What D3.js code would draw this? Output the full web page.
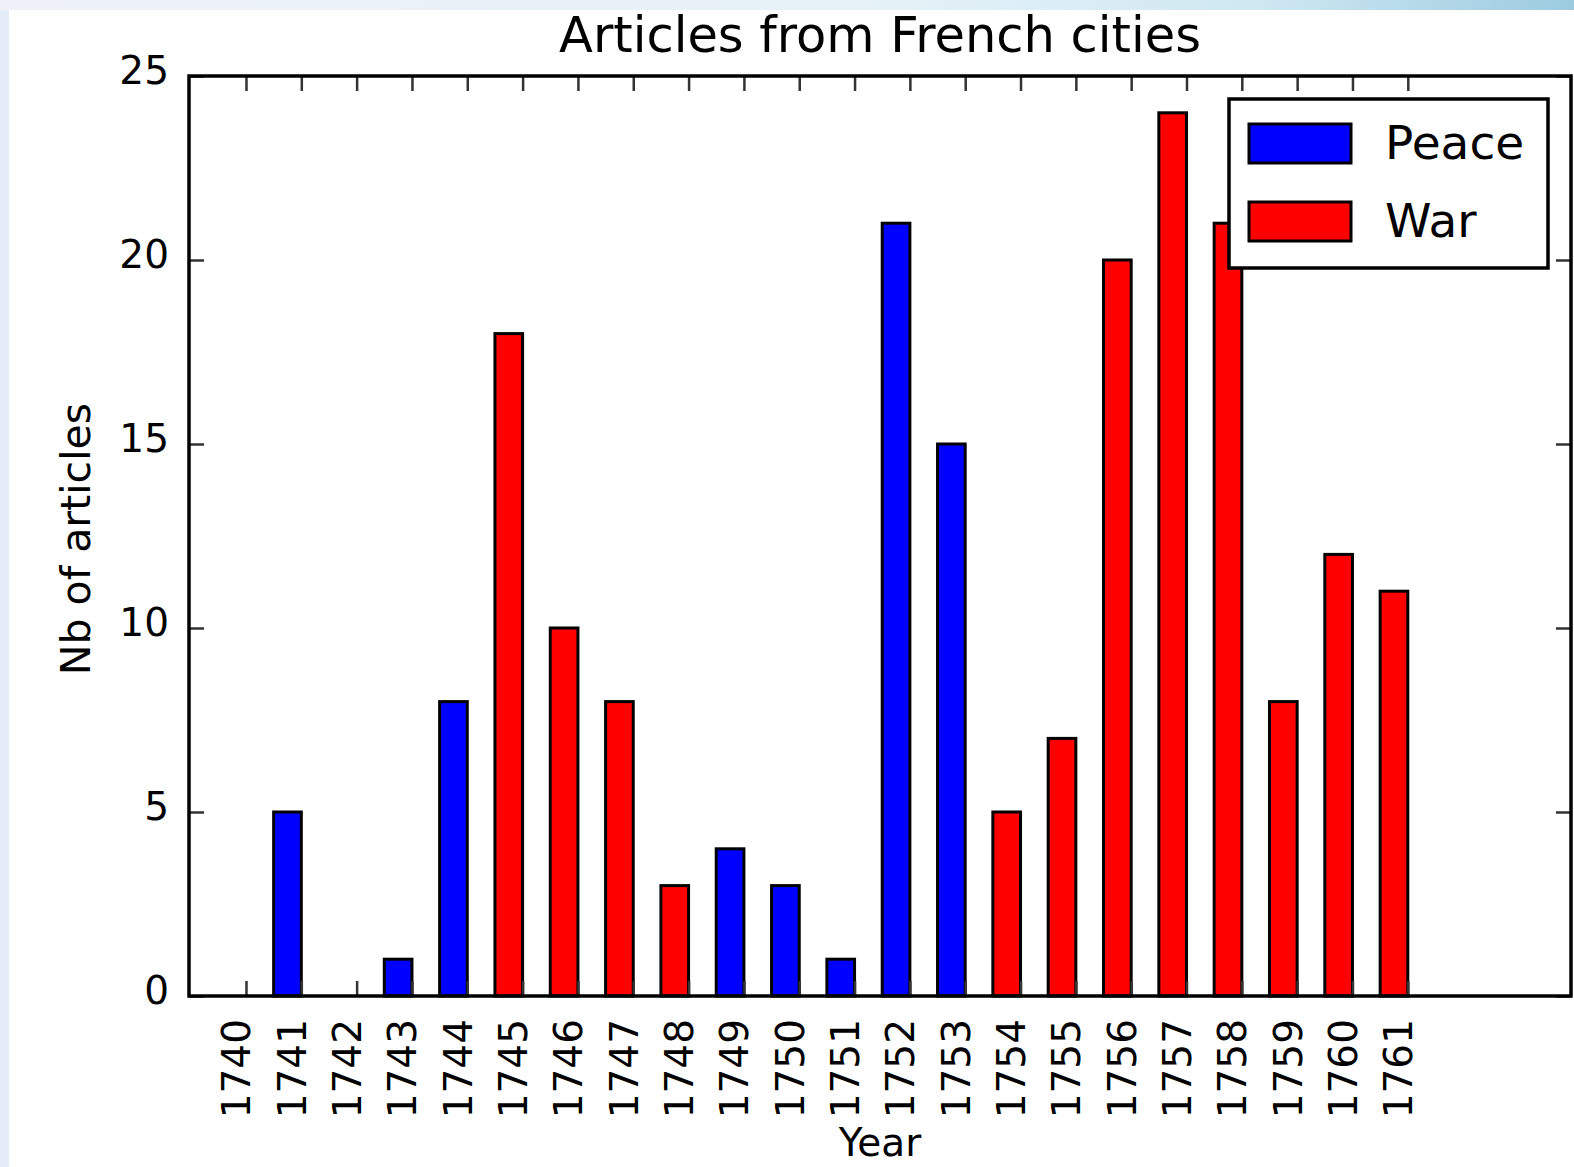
<!DOCTYPE html>
<html>
<head>
<meta charset="utf-8">
<script src="https://cdn.jsdelivr.net/npm/d3@7"></script>
<style>
  html, body { margin: 0; padding: 0; background: #fff; }
  svg { display: block; }
  text { font-family: "DejaVu Sans", sans-serif; fill: #000; }
</style>
</head>
<body>
<script>
// ---- data ----
const years = ["1740","1741","1742","1743","1744","1745","1746","1747","1748","1749","1750",
               "1751","1752","1753","1754","1755","1756","1757","1758","1759","1760","1761"];
const peace = [0,5,0,1,8,0,0,0,0,4,3,1,21,15,0,0,0,0,0,0,0,0];
const war   = [0,0,0,0,0,18,10,8,3,0,0,0,0,0,5,7,20,24,21,8,12,11];
const yTicks = [0,5,10,15,20,25];
const seriesNames = ["Peace","War"];
const seriesColors = ["#0000ff","#ff0000"];

(function () {
const W = 1574, H = 1167;
const pL = 189, pR = 1571, pT = 76, pB = 996;

const svg = d3.select("body").append("svg").attr("width", W).attr("height", H);

// background frame
const defs = svg.append("defs");
const grad = defs.append("linearGradient").attr("id","topg").attr("x1","0").attr("x2","1").attr("y1","0").attr("y2","0");
[["0%","#eef2f8"],["55%","#e6f2f8"],["80%","#cfe8f2"],["100%","#9ccbe0"]].forEach(s=>grad.append("stop").attr("offset",s[0]).attr("stop-color",s[1]));
svg.append("rect").attr("x",0).attr("y",0).attr("width",W).attr("height",H).attr("fill","#e5edf8");
svg.append("rect").attr("x",0).attr("y",0).attr("width",W).attr("height",10).attr("fill","url(#topg)");
svg.append("rect").attr("x",9).attr("y",10).attr("width",W-9).attr("height",H-10).attr("fill","#fff");

const x = d3.scaleLinear().domain([-1.03, 23.95]).range([pL, pR]);
const y = d3.scaleLinear().domain([0, 25]).range([pB, pT]);

const idx = years.map((_, i) => i);

// bars
const series = [peace, war];
series.forEach((vals, s) => {
  svg.append("g").selectAll("rect")
    .data(vals.map((v, i) => ({v, i})).filter(d => d.v > 0))
    .join("rect")
    .attr("x", d => x(d.i - 0.5))
    .attr("width", d => x(d.i) - x(d.i - 0.5))
    .attr("y", d => y(d.v))
    .attr("height", d => y(0) - y(d.v))
    .attr("fill", seriesColors[s])
    .attr("stroke", "#000")
    .attr("stroke-width", 3);
});

// axes
const tickStyle = g => {
  g.select(".domain").remove();
  g.selectAll(".tick line").attr("stroke", "#333").attr("stroke-width", 2.5);
};

const xb = svg.append("g").attr("transform", `translate(0,${pB})`)
  .call(d3.axisBottom(x).tickValues(idx).tickFormat(i => years[i]).tickSizeInner(-15).tickSizeOuter(0))
  .call(tickStyle);
xb.selectAll(".tick text")
  .attr("font-size", 39).attr("font-family", "DejaVu Sans")
  .attr("text-anchor", "end")
  .attr("x", 0).attr("y", 4).attr("dy", 0)
  .attr("transform", "translate(0,23) rotate(-90)");

svg.append("g").attr("transform", `translate(0,${pT})`)
  .call(d3.axisTop(x).tickValues(idx).tickFormat("").tickSizeInner(-15).tickSizeOuter(0))
  .call(tickStyle);

const yl = svg.append("g").attr("transform", `translate(${pL},0)`)
  .call(d3.axisLeft(y).tickValues(yTicks).tickSizeInner(-15).tickSizeOuter(0).tickPadding(20))
  .call(tickStyle);
yl.selectAll(".tick text").attr("font-size", 39).attr("font-family", "DejaVu Sans").attr("dy", "0.2em");

svg.append("g").attr("transform", `translate(${pR},0)`)
  .call(d3.axisRight(y).tickValues(yTicks).tickFormat("").tickSizeInner(-15).tickSizeOuter(0))
  .call(tickStyle);

// frame
svg.append("rect").attr("x", pL).attr("y", pT).attr("width", pR - pL).attr("height", pB - pT)
  .attr("fill", "none").attr("stroke", "#000").attr("stroke-width", 3.5);

// title & labels
svg.append("text").attr("x", (pL + pR) / 2).attr("y", 52).attr("text-anchor", "middle")
  .attr("font-size", 49.5).text("Articles from French cities");
svg.append("text").attr("x", (pL + pR) / 2).attr("y", 1156).attr("text-anchor", "middle")
  .attr("font-size", 39).text("Year");
svg.append("text").attr("transform", `translate(90,${(404 + 674) / 2}) rotate(-90)`).attr("text-anchor", "middle")
  .attr("font-size", 41).text("Nb of articles");

// legend
const lg = svg.append("g");
lg.append("rect").attr("x", 1229).attr("y", 99).attr("width", 319).attr("height", 169)
  .attr("fill", "#fff").attr("stroke", "#000").attr("stroke-width", 3.5);
seriesNames.forEach((name, k) => {
  const cy = 143.5 + k * 78;
  lg.append("rect").attr("x", 1249).attr("y", cy - 19.5).attr("width", 102).attr("height", 39)
    .attr("fill", seriesColors[k]).attr("stroke", "#000").attr("stroke-width", 3);
  lg.append("text").attr("x", 1385).attr("y", cy + 15.5).attr("font-size", 47).text(name);
});
})();
</script>
</body>
</html>
